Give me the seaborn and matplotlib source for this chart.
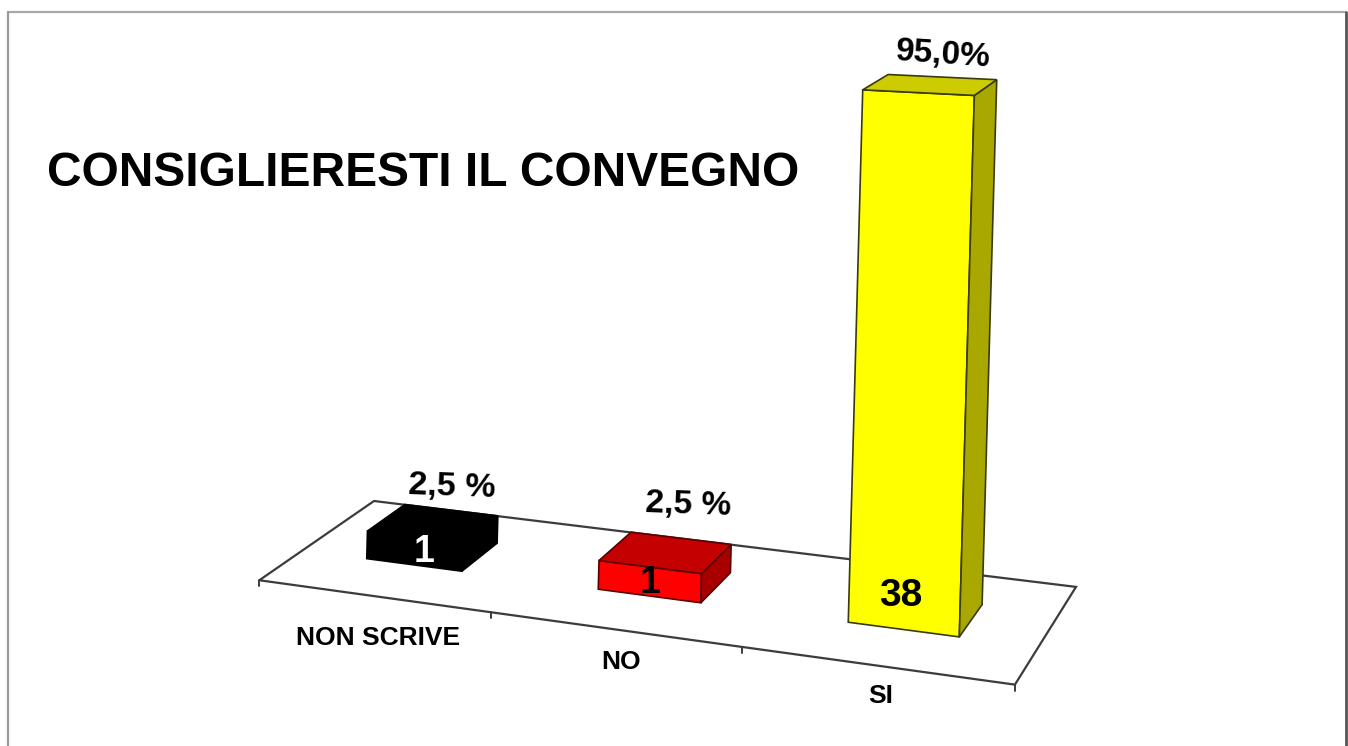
import numpy as np
import matplotlib
matplotlib.use("Agg")
import matplotlib.pyplot as plt
import seaborn as sns
from matplotlib.patches import Polygon
from matplotlib.lines import Line2D
from matplotlib.transforms import Transform, IdentityTransform

categories = ["NON SCRIVE", "NO", "SI"]
counts = [1, 1, 38]
percent_labels = ["2,5 %", "2,5 %", "95,0%"]

front_colors = ["#000000", "#FF0000", "#FFFF00"]
top_colors = ["#000000", "#C40000", "#CCCC00"]
side_colors = ["#000000", "#A80000", "#A8A800"]
edge_colors = ["#000000", "#5a0000", "#3a3a10"]

W, H = 1348, 746
FLOOR = -1.2     # bottom of the value axis
BAR_WIDTH = 0.42
D0, D1 = 0.36, 0.70  # depth of the bars on the floor
HW = BAR_WIDTH / 2

# camera fitted on the floor corners, ticks and the scale at 38
# (x, depth, value) -> image pixel
calib = [
    ((-0.5, 0, FLOOR), (262, 578)), ((0.5, 0, FLOOR), (496, 609)),
    ((1.5, 0, FLOOR), (748, 644)), ((2.5, 0, FLOOR), (1018, 683)),
    ((2.5, 1, FLOOR), (1075, 587)), ((-0.5, 1, FLOOR), (376, 502)),
    ((2 - HW, D0, FLOOR), (850, 625)), ((2 + HW, D0, FLOOR), (955, 638)),
    ((2 - HW, D0, 38), (861, 90)), ((2 + HW, D0, 38), (973, 97)),
    ((2 + HW, D1, 38), (998, 80)), ((2 - HW, D1, 38), (890, 73)),
    ((-HW, D0, 1), (364, 532)), ((HW, D0, 1), (457, 544)),
    ((HW, D1, 1), (498, 512)), ((-HW, D1, 1), (409, 503)),
    ((1 - HW, D0, 1), (599, 563)), ((1 + HW, D0, 1), (697, 573)),
    ((1 + HW, D1, 1), (732, 541)), ((1 - HW, D1, 1), (636, 530)),
    ((-HW, D0, FLOOR), (364, 562)), ((HW, D0, FLOOR), (457, 574)),
    ((1 - HW, D0, FLOOR), (599, 593)), ((1 + HW, D0, FLOOR), (697, 605)),
]


def fit_camera(points):
    A, b = [], []
    for (x, d, y), (u, v) in points:
        A.append([x, d, y, 1, 0, 0, 0, 0, -u * x, -u * d, -u * y])
        A.append([0, 0, 0, 0, x, d, y, 1, -v * x, -v * d, -v * y])
        b += [u, v]
    p = np.linalg.lstsq(np.array(A, float), np.array(b, float), rcond=None)[0]
    return np.append(p, 1).reshape(3, 4)


CAM = fit_camera(calib)


def project(x, d, y):
    q = CAM @ np.array([x, d, y, 1.0])
    return q[0] / q[2], H - q[1] / q[2]


class FrontFace(Transform):
    # bar rectangle (x, value) onto the front plane of the box
    input_dims = 2
    output_dims = 2
    is_separable = False
    has_inverse = False

    def transform_non_affine(self, values):
        values = np.asarray(values, float)
        return np.array([project(x, D0, y) for x, y in values])


def px_text(x, y, s, **kw):
    fig.text(x / W, 1 - y / H, s, ha="center", va="center", fontweight="bold",
             color=kw.pop("color", "black"), **kw)


sns.set_theme(style="white")
plt.rcParams["font.family"] = ["Liberation Sans", "DejaVu Sans"]

fig = plt.figure(figsize=(W / 100, H / 100), dpi=100)
ax = fig.add_axes([0, 0, 1, 1])
sns.barplot(x=categories, y=counts, hue=categories, palette=front_colors,
            width=BAR_WIDTH, saturation=1, dodge=False, legend=False, ax=ax,
            linewidth=1.2, zorder=3)
ax.set_axis_off()
bars = list(ax.patches)

# floor
pix = IdentityTransform()
floor = [project(-0.5, 0, FLOOR), project(2.5, 0, FLOOR),
         project(2.5, 1, FLOOR), project(-0.5, 1, FLOOR)]
ax.add_patch(Polygon(floor, closed=True, facecolor="white", edgecolor="#3c3c3c",
                     linewidth=1.6, transform=pix, zorder=1))
for t in [-0.5, 0.5, 1.5, 2.5]:
    tx, ty = project(t, 0, FLOOR)
    ax.add_line(Line2D([tx, tx], [ty, ty - 6], color="#3c3c3c", linewidth=1.4,
                       transform=pix, zorder=1))

# boxes: the seaborn bar is the front face, side and top come from its geometry
for patch in bars:
    value = patch.get_height()
    x0 = patch.get_x()
    x1 = x0 + patch.get_width()
    k = int(round((x0 + x1) / 2))
    patch.set_y(FLOOR)
    patch.set_height(value - FLOOR)
    patch.set_transform(FrontFace())
    patch.set_clip_on(False)
    patch.set_edgecolor(edge_colors[k])
    side = [project(x1, D0, FLOOR), project(x1, D1, FLOOR),
            project(x1, D1, value), project(x1, D0, value)]
    top = [project(x0, D0, value), project(x1, D0, value),
           project(x1, D1, value), project(x0, D1, value)]
    ax.add_patch(Polygon(side, closed=True, facecolor=side_colors[k], edgecolor=edge_colors[k],
                         linewidth=1.2, transform=pix, zorder=3))
    ax.add_patch(Polygon(top, closed=True, facecolor=top_colors[k], edgecolor=edge_colors[k],
                         linewidth=1.2, transform=pix, zorder=3))

# page frame of the slide
fig.add_artist(Line2D([8 / W, 1345 / W], [1 - 12 / H, 1 - 12 / H], color="#a8a8a8", linewidth=1.6))
fig.add_artist(Line2D([8 / W, 8 / W], [0, 1 - 12 / H], color="#9a9a9a", linewidth=1.6))
fig.add_artist(Line2D([1345.5 / W, 1345.5 / W], [0, 1 - 12 / H], color="#555555", linewidth=2))

px_text(423, 174, "CONSIGLIERESTI IL CONVEGNO", fontsize=34.5)

px_text(378, 638, categories[0], fontsize=19)
px_text(621, 662, categories[1], fontsize=19)
px_text(881, 696, categories[2], fontsize=19)

px_text(452, 487, percent_labels[0], fontsize=24.5, rotation=-2)
px_text(688, 505, percent_labels[1], fontsize=24, rotation=-2)
px_text(943, 55, percent_labels[2], fontsize=24, rotation=-4)

px_text(424, 552, str(counts[0]), fontsize=27, color="white")
px_text(650, 583, str(counts[1]), fontsize=27)
px_text(901, 596, str(counts[2]), fontsize=28)

fig.savefig("out.png", dpi=100, facecolor="white")
